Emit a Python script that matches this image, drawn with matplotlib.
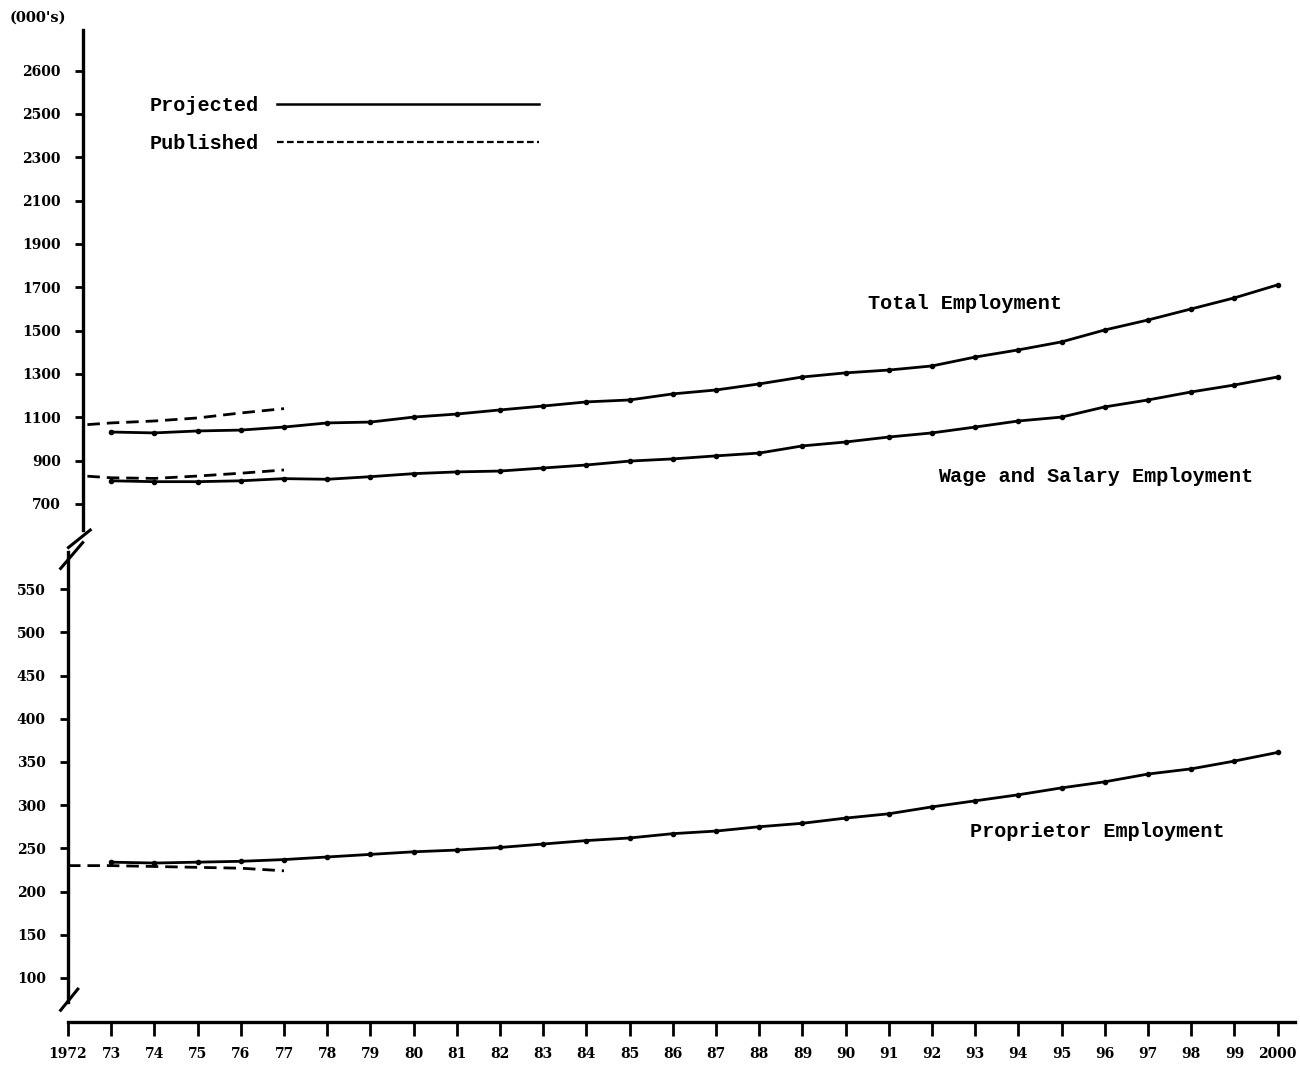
import matplotlib
matplotlib.use("Agg")
import matplotlib.pyplot as plt
from matplotlib.lines import Line2D

# Years for projected series
years = list(range(1973, 2001))
# Published series years
pub_years = list(range(1972, 1978))

# Projected values (000's)
total_proj = [1032, 1028, 1037, 1041, 1055, 1074, 1078, 1101, 1115, 1134,
              1152, 1171, 1180, 1208, 1226, 1254, 1286, 1305, 1318, 1337,
              1378, 1411, 1448, 1503, 1549, 1600, 1651, 1711]
wage_proj = [807, 803, 803, 807, 817, 814, 826, 840, 848, 852,
             866, 880, 898, 908, 922, 935, 968, 986, 1009, 1028,
             1055, 1083, 1101, 1148, 1180, 1217, 1249, 1286]
prop_proj = [234, 233, 234, 235, 237, 240, 243, 246, 248, 251,
             255, 259, 262, 267, 270, 275, 279, 285, 290, 298,
             305, 312, 320, 327, 336, 342, 351, 361]

# Published values
total_pub = [1060, 1074, 1083, 1097, 1120, 1140]
wage_pub = [834, 821, 818, 829, 842, 857]
prop_pub = [230, 230, 229, 228, 227, 224]

top_ticks = [700, 900, 1100, 1300, 1500, 1700, 1900, 2100, 2300, 2500, 2700]
top_labels = ["700", "900", "1100", "1300", "1500", "1700", "1900", "2100", "2300", "2500", "2600"]
bot_ticks = [100, 150, 200, 250, 300, 350, 400, 450, 500, 550]
x_ticks = list(range(1972, 2001))
x_labels = ["1972"] + ["%02d" % (y % 100) for y in range(1973, 2000)] + ["2000"]

W, H = 1300, 1065
PX_PER_YEAR = 43.2
X0 = 68  # pixel of 1972

def year_at(px):
    return 1972 + (px - X0) / PX_PER_YEAR

tick_font = dict(family="DejaVu Serif", weight="bold", size=10)
text_font = dict(family="Liberation Mono", weight="bold", size=14.5)

fig = plt.figure(figsize=(W / 100, H / 100), dpi=100)
fig.patch.set_facecolor("white")

# top panel (pixels 30..530, left spine at x=83)
ax1 = fig.add_axes([83 / W, 1 - 530 / H, (1295 - 83) / W, 500 / H])
ax1.set_xlim(year_at(83), year_at(1295))
ax1.set_ylim(580, 2887)
# bottom panel (pixels 552..1022)
ax2 = fig.add_axes([X0 / W, 1 - 1022 / H, (1295 - X0) / W, 470 / H])
ax2.set_xlim(1972, year_at(1295))
ax2.set_ylim(49, 593)

lw = 2.0
dash = (0, (4.5, 2.5))
for ax in (ax1, ax2):
    for s in ("top", "right"):
        ax.spines[s].set_visible(False)
    ax.spines["left"].set_linewidth(2.4)
    ax.patch.set_alpha(0)
ax1.spines["bottom"].set_visible(False)
ax2.spines["bottom"].set_linewidth(2.4)

# top panel lines
ax1.plot(years, total_proj, color="black", lw=lw, marker="o", ms=3)
ax1.plot(years, wage_proj, color="black", lw=lw, marker="o", ms=3)
ax1.plot(pub_years, total_pub, color="black", lw=lw, linestyle=dash)
ax1.plot(pub_years, wage_pub, color="black", lw=lw, linestyle=dash)
# bottom panel lines
ax2.plot(years, prop_proj, color="black", lw=lw, marker="o", ms=3)
ax2.plot(pub_years, prop_pub, color="black", lw=lw, linestyle=dash)

ax1.set_yticks(top_ticks)
ax1.set_yticklabels(top_labels, fontdict=tick_font)
ax1.set_xticks([])
ax2.set_yticks(bot_ticks)
ax2.set_yticklabels([str(t) for t in bot_ticks], fontdict=tick_font)
ax2.set_xticks(x_ticks)
ax2.set_xticklabels(x_labels, fontdict=tick_font)
ax1.tick_params(axis="y", length=6, width=2, pad=10)
ax2.tick_params(axis="y", length=6, width=2, pad=10)
ax2.tick_params(axis="x", length=10, width=2, pad=8)

# axis break marks
kw = dict(color="black", lw=2.2, clip_on=False)
ax1.plot([-0.012, 0.006], [-0.035, 0.0], transform=ax1.transAxes, **kw)
ax2.plot([-0.006, 0.012], [0.965, 1.02], transform=ax2.transAxes, **kw)
ax2.plot([-0.006, 0.008], [0.025, 0.07], transform=ax2.transAxes, **kw)
ax2.spines["left"].set_bounds(72, 593)

# units label
fig.text(10 / W, 1 - 18 / H, "(000's)", fontsize=10.5, fontweight="bold",
         family="DejaVu Serif", va="center")

# curve labels
ax1.text(1990.52, 1627, "Total Employment", va="center", ha="left", **text_font)
ax1.text(1992.14, 825, "Wage and Salary Employment", va="center", ha="left", **text_font)
ax2.text(1992.88, 269, "Proprietor Employment", va="center", ha="left", **text_font)

# legend
handles = [Line2D([], [], color="black", lw=1.8),
           Line2D([], [], color="black", lw=1.6, linestyle=(0, (3, 1.5)))]
leg = fig.legend(handles, ["Projected", "Published"], loc="upper left",
                 bbox_to_anchor=(150 / W, 1 - 96 / H), bbox_transform=fig.transFigure,
                 frameon=False, markerfirst=False, handlelength=13.0,
                 handletextpad=0.9, labelspacing=0.95, borderpad=0, borderaxespad=0,
                 prop=dict(family="Liberation Mono", weight="bold", size=14.5))

fig.savefig("out.png", dpi=100)
